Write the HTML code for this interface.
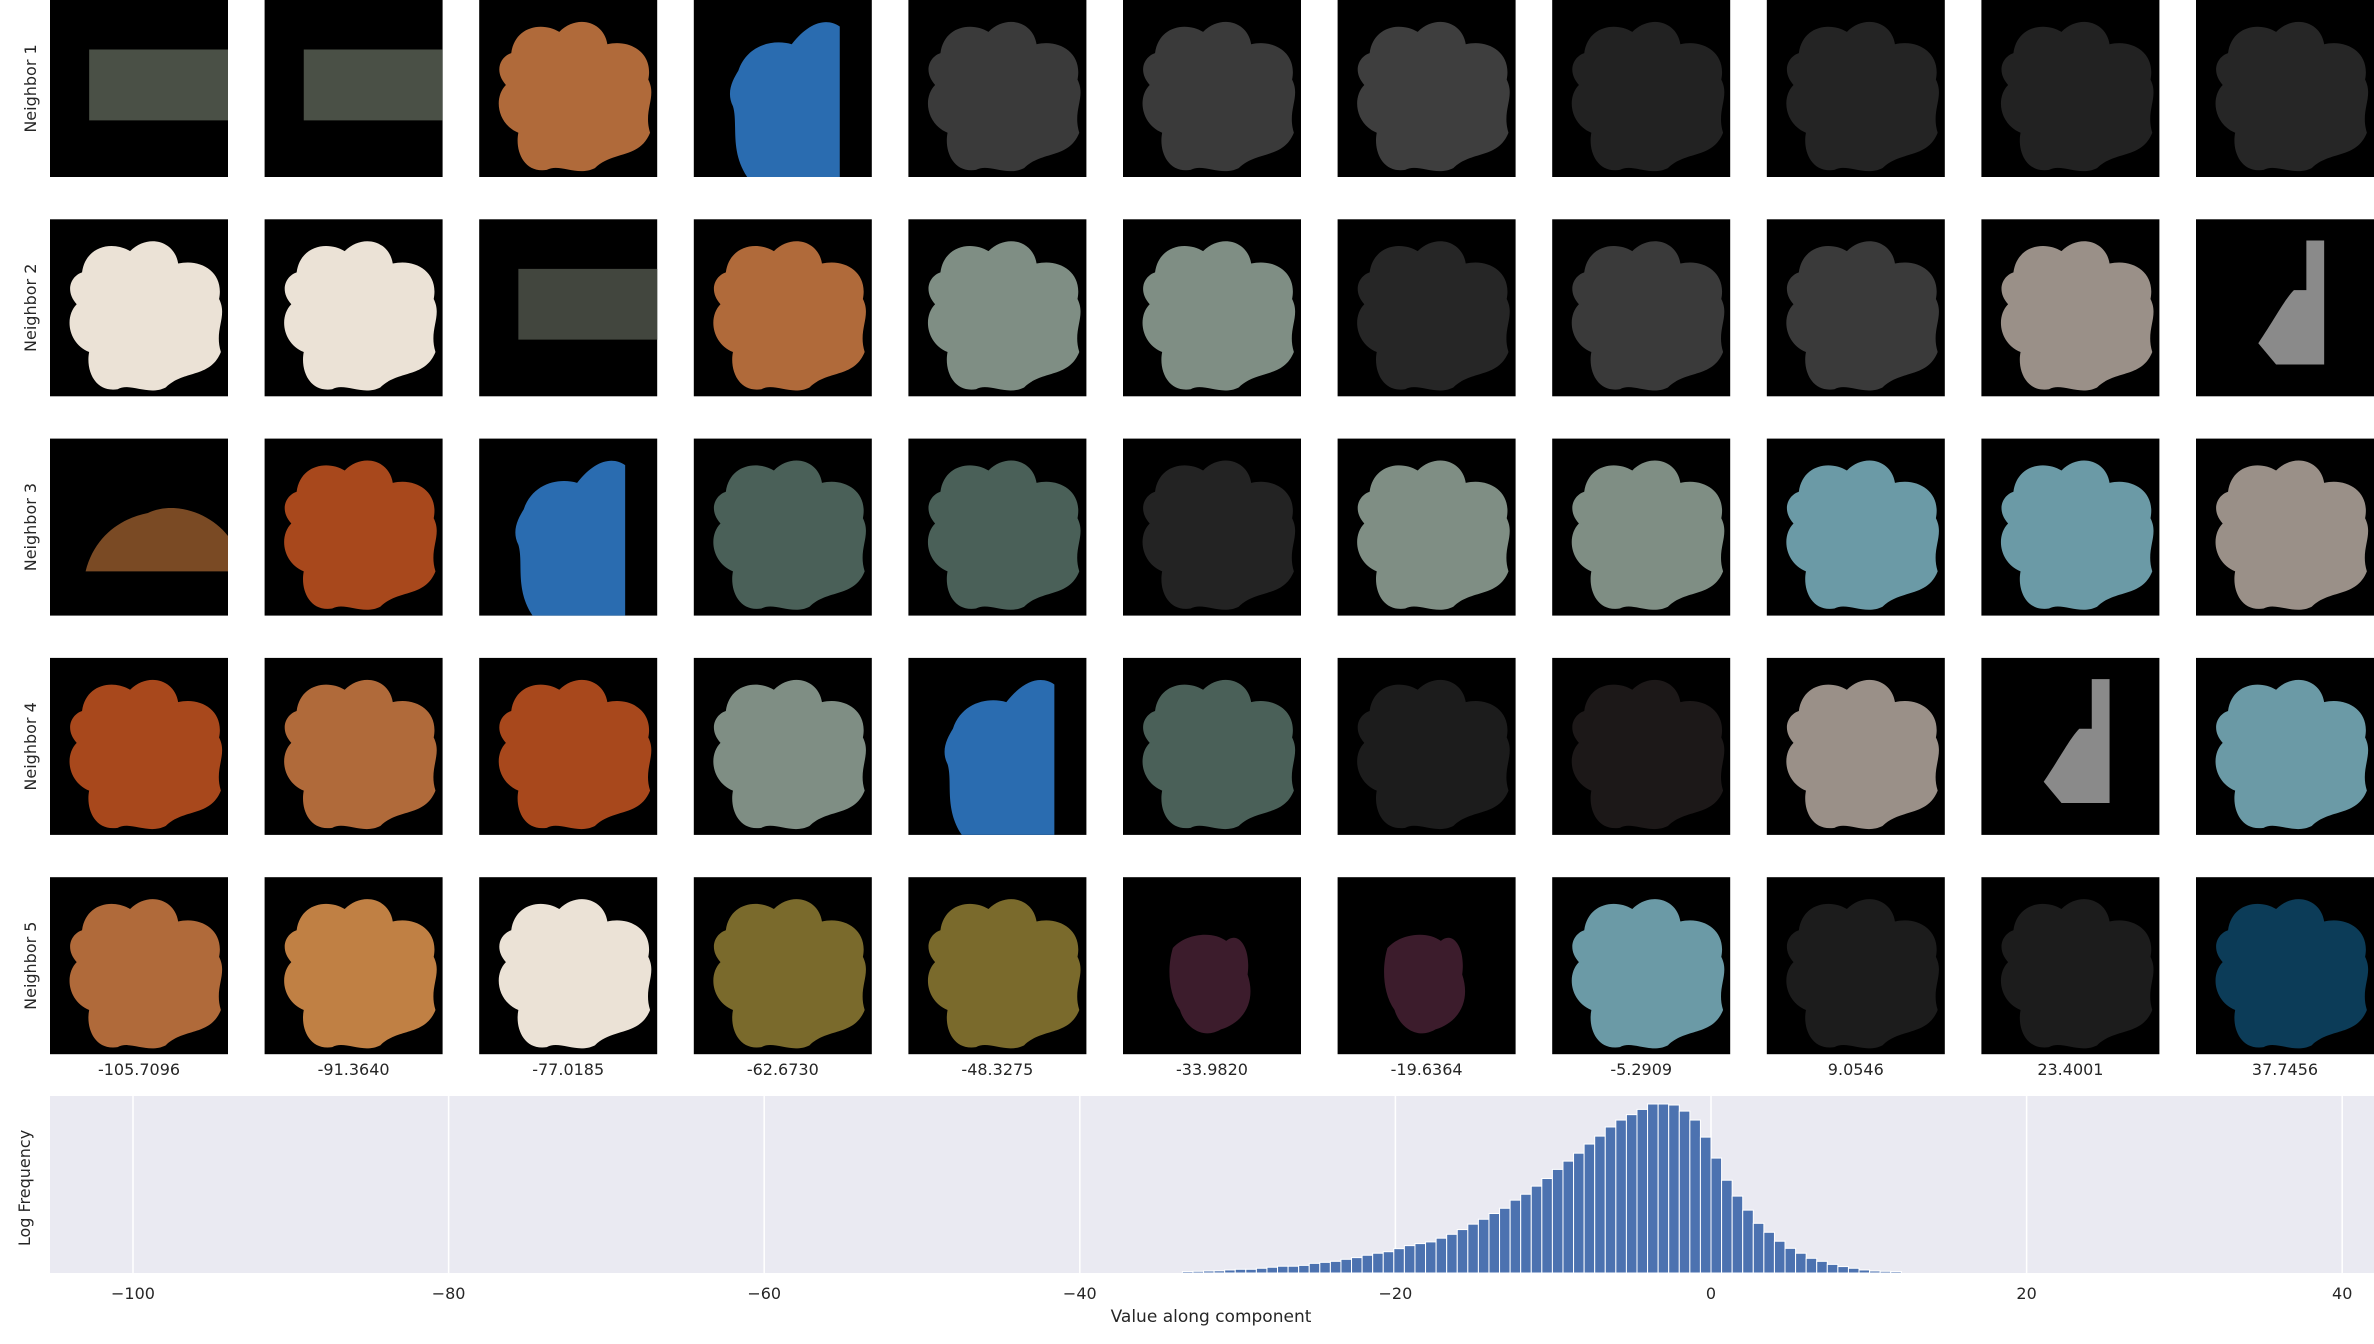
<!DOCTYPE html>
<html><head><meta charset="utf-8"><style>
html,body{margin:0;padding:0;background:#fff;}
svg{display:block;font-family:"DejaVu Sans","Liberation Sans",sans-serif;}
</style></head><body>
<svg id="fig" width="2374" height="1344" viewBox="0 0 2374 1344" xmlns="http://www.w3.org/2000/svg">
<g id="grid"></g>
<g id="hist"></g>
</svg>
<script>
const NS="http://www.w3.org/2000/svg";
// ---- grid data ----
const colValues=["-105.7096","-91.3640","-77.0185","-62.6730","-48.3275","-33.9820","-19.6364","-5.2909","9.0546","23.4001","37.7456"];
const rowLabels=["Neighbor 1","Neighbor 2","Neighbor 3","Neighbor 4","Neighbor 5"];
const cellColors=[
 ["#4a5046","#4a5046","#b06a3a","#2a6cb0","#3a3a3a","#3a3a3a","#3e3e3e","#222222","#242424","#222222","#262626"],
 ["#ebe2d6","#ebe2d6","#42463e","#b06a3a","#7f8e84","#7f8e84","#262626","#3a3a3a","#3a3a3a","#9a9088","#8a8a8a"],
 ["#7a4a24","#a8481c","#2a6cb0","#4a6058","#4a6058","#232323","#7f8e84","#7f8e84","#6b9aa6","#6b9aa6","#9a9088"],
 ["#a8481c","#b06a3a","#a8481c","#7f8e84","#2a6cb0","#4a6058","#1c1c1c","#1c1818","#9a9088","#8a8a8a","#6b9aa6"],
 ["#b06a3a","#c08044","#ebe2d6","#7a6a2c","#7a6a2c","#3c1c2c","#3c1c2c","#6b9aa6","#1c1c1c","#1c1c1c","#0c3c58"]];
const cellShapes=[
 ["rect","rect","blob","half","blob","blob","blob","blob","blob","blob","blob"],
 ["blob","blob","rect","blob","blob","blob","blob","blob","blob","blob","strip"],
 ["low","blob","half","blob","blob","blob","blob","blob","blob","blob","blob"],
 ["blob","blob","blob","blob","half","blob","blob","blob","blob","strip","blob"],
 ["blob","blob","blob","blob","blob","small","small","blob","blob","blob","blob"]];
// ---- histogram data ----
const binStart=-33.5, binWidth=0.67;
const freqs=[0.9,1.0,1.2,1.3,1.8,2.2,2.2,2.8,3.4,4.0,4.0,4.5,5.7,6.3,6.9,8.1,9.1,10.5,11.7,12.6,14.4,16.2,17.4,18.4,20.6,22.9,25.7,28.9,31.8,35.2,38.3,43.1,46.6,51.4,55.9,61.3,66.2,70.9,76.3,81.0,86.4,90.5,93.7,96.8,100,100,99.4,95.8,90.5,80.4,68.0,54.9,45.5,37.2,29.4,24.1,18.8,14.6,11.7,8.7,6.9,5.1,3.8,2.8,1.8,1.2,1.0,0.9];
const xTicks=[-100,-80,-60,-40,-20,0,20,40];

function el(tag,attrs,parent){const e=document.createElementNS(NS,tag);for(const k in attrs)e.setAttribute(k,attrs[k]);parent.appendChild(e);return e;}
const shapes={
 blob:"M18,30 C20,15 35,12 45,18 C55,8 70,12 72,25 C85,22 98,30 95,45 C100,55 92,62 96,75 C90,90 75,85 65,95 C55,100 45,92 38,96 C25,98 20,85 22,75 C10,70 8,55 15,48 C8,40 12,32 18,30 Z",
 rect:"M22,28 L100,28 L100,68 L22,68 Z",
 low:"M20,75 C25,55 40,45 55,42 C70,35 90,42 100,55 L100,75 Z",
 half:"M25,40 C30,25 45,22 55,25 C65,12 75,10 82,15 L82,100 L30,100 C20,85 25,70 22,60 C18,52 22,45 25,40 Z",
 strip:"M35,70 C45,55 50,45 55,40 L62,40 L62,12 L72,12 L72,82 L45,82 Z",
 small:"M28,40 C35,32 50,30 58,36 C65,30 72,40 70,55 C75,70 68,82 55,86 C45,92 35,85 32,75 C25,65 25,50 28,40 Z"};
const grid=document.getElementById('grid');
const colX=c=>50+c*214.6, rowY=r=>r*219.3, cw=178, ch=177;
for(let r=0;r<5;r++){
 const lt=el('text',{x:36,y:rowY(r)+ch/2,transform:`rotate(-90 36 ${rowY(r)+ch/2})`,'text-anchor':'middle','font-size':16,fill:'#262626'},grid);
 
 
 lt.textContent=rowLabels[r];
 for(let c=0;c<11;c++){
  const g=el('g',{transform:`translate(${colX(c)},${rowY(r)})`},grid);
  
  
  el('rect',{x:0,y:0,width:cw,height:ch,fill:'#000'},g);
  el('path',{d:shapes[cellShapes[r][c]],transform:`scale(${cw/100},${ch/100})`,fill:cellColors[r][c]},g);
 }
}
for(let c=0;c<11;c++){
 const t=el('text',{x:colX(c)+cw/2,y:1075,'text-anchor':'middle','font-size':16,fill:'#262626'},grid);
 
 
 t.textContent=colValues[c];
}
// histogram
const H=document.getElementById('hist');
const axL=50,axR=2374,axT=1096,axB=1273;
const xs=v=>1711+v*(1578/100);
const ys=f=>axB-f*1.69;
const bg=el('rect',{x:axL,y:axT,width:axR-axL,height:axB-axT,fill:'#eaeaf2'},H);


xTicks.forEach(t=>{
 el('line',{x1:xs(t),x2:xs(t),y1:axT,y2:axB,stroke:'#fff','stroke-width':1.5},H);
 const tl=el('text',{x:xs(t),y:1299,'text-anchor':'middle','font-size':16,fill:'#262626'},H);
 
 
 tl.textContent=(t<0?'\u2212'+(-t):t);
});
freqs.forEach((f,i)=>{
 const x0=xs(binStart+i*binWidth),x1=xs(binStart+(i+1)*binWidth);
 const b=el('rect',{x:x0,y:ys(f),width:x1-x0,height:axB-ys(f),fill:'#4c72b0',stroke:'#fff','stroke-width':1},H);
 
 
});
const xl=el('text',{x:1211,y:1322,'text-anchor':'middle','font-size':17,fill:'#262626'},H);


xl.textContent='Value along component';
const yl=el('text',{x:30,y:1188,transform:'rotate(-90 30 1188)','text-anchor':'middle','font-size':16,fill:'#262626'},H);


yl.textContent='Log Frequency';
</script>
</body></html>
